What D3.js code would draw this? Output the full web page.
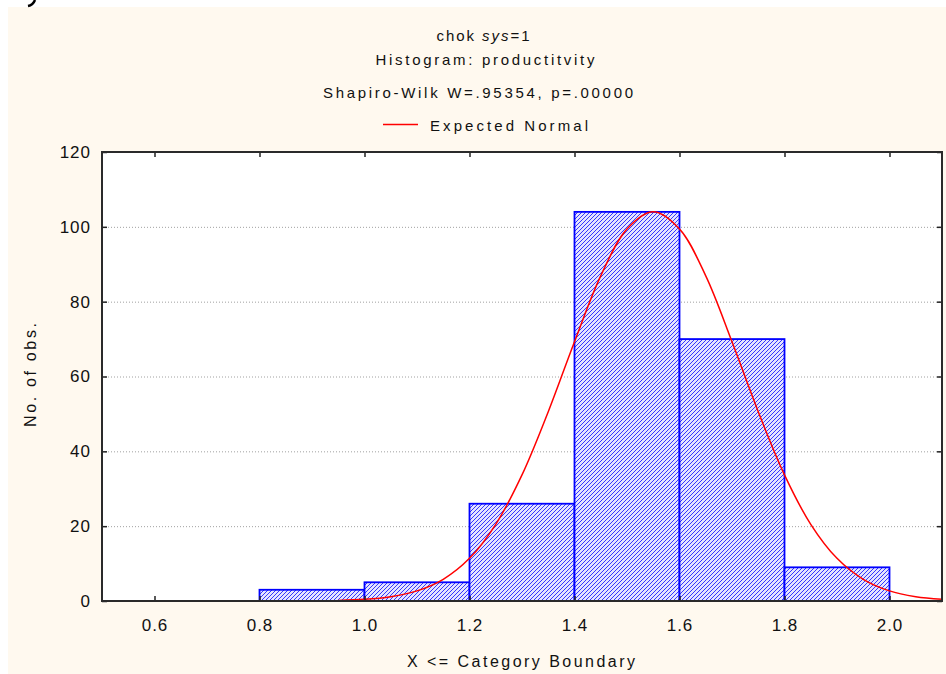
<!DOCTYPE html>
<html>
<head>
<meta charset="utf-8">
<script src="https://cdn.jsdelivr.net/npm/d3@7"></script>
<style>
  body { margin: 0; background: #ffffff; }
  text { font-family: "Liberation Sans", Arial, sans-serif; fill: #111; }
</style>
</head>
<body>
<div id="chart"></div>
<script>
// histogram bins (lower boundary, upper boundary, count)
var binLo = [0.8, 1.0, 1.2, 1.4, 1.6, 1.8];
var binHi = [1.0, 1.2, 1.4, 1.6, 1.8, 2.0];
var counts = [3, 5, 26, 104, 70, 9];

// expected normal curve
var curveX = [0.95, 1.00, 1.05, 1.10, 1.15, 1.20, 1.25, 1.30, 1.35, 1.40, 1.45, 1.50, 1.55,
              1.60, 1.65, 1.70, 1.75, 1.80, 1.85, 1.90, 1.95, 2.00, 2.05, 2.10];
var curveY = [0.16, 0.44, 1.15, 2.7, 5.8, 11.4, 20.5, 33.7, 50.6, 69.3, 86.9, 99.4, 104,
              99.4, 86.9, 69.3, 50.6, 33.7, 20.5, 11.4, 5.8, 2.7, 1.15, 0.44];

var xTicks = [0.6, 0.8, 1.0, 1.2, 1.4, 1.6, 1.8, 2.0];
var yTicks = [0, 20, 40, 60, 80, 100, 120];

var titleLines = ["Histogram: productitvity", "Shapiro-Wilk W=.95354, p=.00000"];

function drawChart() {
  var W = 946, H = 674;
  var margin = { top: 152, right: 4, bottom: 73, left: 102 },
    width = W - margin.left - margin.right,
    height = H - margin.top - margin.bottom;

  var svg = d3.select("#chart")
    .append("svg")
    .attr("width", W)
    .attr("height", H);

  // beige page background
  svg.append("rect")
    .attr("x", 8).attr("y", 7)
    .attr("width", W - 8).attr("height", H - 7)
    .attr("fill", "#fff9ef");

  // small cut glyph at the top left of the screenshot
  svg.append("path")
    .attr("d", "M35,0 Q33,5 28,6")
    .attr("fill", "none")
    .attr("stroke", "#000")
    .attr("stroke-width", 2.5);

  // hatch pattern
  var defs = svg.append("defs");
  var pat = defs.append("pattern")
    .attr("id", "hatch")
    .attr("patternUnits", "userSpaceOnUse")
    .attr("width", 4).attr("height", 4);
  pat.append("rect").attr("width", 4).attr("height", 4).attr("fill", "#e4e4ff");
  pat.append("path")
    .attr("d", "M-1,1 l2,-2 M0,4 l4,-4 M3,5 l2,-2")
    .attr("stroke", "#3535ff")
    .attr("stroke-width", 1);

  defs.append("clipPath").attr("id", "plotclip")
    .append("rect").attr("width", width).attr("height", height);

  var g = svg.append("g")
    .attr("transform", "translate(" + margin.left + "," + margin.top + ")");

  // plot area
  g.append("rect")
    .attr("width", width).attr("height", height)
    .attr("fill", "#fff");

  var x = d3.scaleLinear().domain([0.5, 2.1]).range([0, width]);
  var y = d3.scaleLinear().domain([0, 120]).range([height, 0]);

  // dotted grid lines
  g.append("g")
    .selectAll("line")
    .data(yTicks.filter(function (d) { return d > 0 && d < 120; }))
    .enter()
    .append("line")
    .attr("x1", 0).attr("x2", width)
    .attr("y1", function (d) { return y(d) + 0.5; })
    .attr("y2", function (d) { return y(d) + 0.5; })
    .attr("stroke", "#a0a0a0")
    .attr("stroke-dasharray", "1,2");

  // bars
  g.append("g")
    .selectAll("rect")
    .data(counts)
    .enter()
    .append("rect")
    .attr("x", function (d, i) { return x(binLo[i]); })
    .attr("y", function (d) { return y(d); })
    .attr("width", function (d, i) { return x(binHi[i]) - x(binLo[i]); })
    .attr("height", function (d) { return height - y(d); })
    .attr("fill", "url(#hatch)")
    .attr("stroke", "#0000ff")
    .attr("stroke-width", 1.8);

  // expected normal curve
  var line = d3.line()
    .x(function (d, i) { return x(curveX[i]); })
    .y(function (d) { return y(d); })
    .curve(d3.curveCatmullRom);
  g.append("path")
    .datum(curveY)
    .attr("clip-path", "url(#plotclip)")
    .attr("d", line)
    .attr("fill", "none")
    .attr("stroke", "#ff0000")
    .attr("stroke-width", 1.5);

  // axes, ticks pointing inward
  var fmt = d3.format(".1f");
  var xAxis = g.append("g")
    .attr("transform", "translate(0," + height + ")")
    .call(d3.axisBottom(x).tickValues(xTicks).tickFormat(fmt).tickSize(-5).tickPadding(18));
  var yAxis = g.append("g")
    .call(d3.axisLeft(y).tickValues(yTicks).tickSize(-5).tickPadding(11));
  g.append("g")
    .call(d3.axisTop(x).tickValues(xTicks).tickFormat("").tickSize(-5));
  g.append("g")
    .attr("transform", "translate(" + width + ",0)")
    .call(d3.axisRight(y).tickValues(yTicks).tickFormat("").tickSize(-5));

  g.selectAll(".domain").remove();
  g.selectAll(".tick line").attr("stroke", "#222").attr("stroke-width", 1.5);
  xAxis.selectAll("text").style("font-size", "17px").attr("letter-spacing", "1px").attr("fill", "#111");
  yAxis.selectAll("text").style("font-size", "17px").attr("letter-spacing", "1px").attr("fill", "#111");

  // frame
  g.append("rect")
    .attr("width", width).attr("height", height)
    .attr("fill", "none")
    .attr("stroke", "#2a2a2a")
    .attr("stroke-width", 2);

  // titles
  var t0 = svg.append("text")
    .attr("x", 483).attr("y", 41)
    .attr("text-anchor", "middle")
    .attr("textLength", 93)
    .attr("lengthAdjust", "spacing")
    .style("font-size", "15px");
  t0.append("tspan").text("chok ");
  t0.append("tspan").style("font-style", "italic").text("sys");
  t0.append("tspan").text("=1");

  svg.append("text")
    .attr("x", 485).attr("y", 65)
    .attr("text-anchor", "middle")
    .attr("textLength", 219)
    .attr("lengthAdjust", "spacing")
    .style("font-size", "15px")
    .text(titleLines[0]);

  svg.append("text")
    .attr("x", 478).attr("y", 98)
    .attr("text-anchor", "middle")
    .attr("textLength", 310)
    .attr("lengthAdjust", "spacing")
    .style("font-size", "15px")
    .text(titleLines[1]);

  // legend
  svg.append("line")
    .attr("x1", 383).attr("x2", 418)
    .attr("y1", 124.5).attr("y2", 124.5)
    .attr("stroke", "#ff0000")
    .attr("stroke-width", 1.5);
  svg.append("text")
    .attr("x", 430).attr("y", 131)
    .attr("textLength", 158)
    .attr("lengthAdjust", "spacing")
    .style("font-size", "15px")
    .text("Expected Normal");

  // axis titles
  svg.append("text")
    .attr("x", 521).attr("y", 667)
    .attr("text-anchor", "middle")
    .attr("textLength", 228)
    .attr("lengthAdjust", "spacing")
    .style("font-size", "16px")
    .text("X <= Category Boundary");

  svg.append("text")
    .attr("transform", "translate(36,375) rotate(-90)")
    .attr("text-anchor", "middle")
    .attr("textLength", 104)
    .attr("lengthAdjust", "spacing")
    .style("font-size", "16px")
    .text("No. of obs.");
}

drawChart();
</script>
</body>
</html>
